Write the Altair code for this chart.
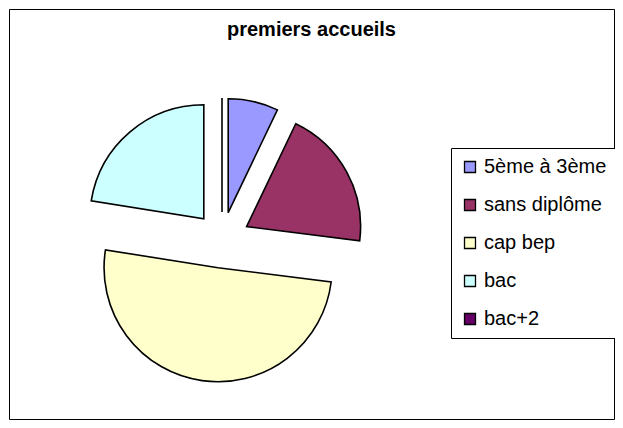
import altair as alt
import pandas as pd

categories = ["5ème à 3ème", "sans diplôme", "cap bep", "bac", "bac+2"]
values = [7.1, 19.9, 50.5, 22.5, 0.0]
colors = ["#9999FF", "#993366", "#FFFFCC", "#CCFFFF", "#660066"]
title_text = "premiers accueils"

df = pd.DataFrame({"cat": categories, "value": values, "order": list(range(len(categories)))})

cx, cy, explode, radius = 213, 231, 28, 114
W, H = 605, 410

arcs = (
    alt.Chart(df)
    .transform_joinaggregate(total="sum(value)")
    .transform_window(cum="sum(value)", sort=[alt.SortField("order")])
    .transform_calculate(t0="2*PI*(datum.cum-datum.value)/datum.total",
                         t1="2*PI*datum.cum/datum.total")
    .transform_calculate(mid="(datum.t0+datum.t1)/2")
    .transform_calculate(px=f"{cx}+{explode}*sin(datum.mid)",
                         py=f"{cy}-{explode}*cos(datum.mid)")
    .mark_arc(outerRadius=radius, stroke="black", strokeWidth=1.6, strokeJoin="miter")
    .encode(
        theta=alt.Theta("t0:Q", scale=None),
        theta2="t1:Q",
        x=alt.X("px:Q", scale=None),
        y=alt.Y("py:Q", scale=None),
        color=alt.Color(
            "cat:N",
            scale=alt.Scale(domain=categories, range=colors),
            legend=alt.Legend(
                title=None, orient="none", legendX=442, legendY=139,
                strokeColor="black", fillColor="white", padding=9,
                symbolType="square", symbolSize=121, symbolStrokeColor="black",
                symbolStrokeWidth=1.3, symbolOpacity=1,
                labelFont="Liberation Sans", labelFontSize=20, labelColor="black",
                labelOffset=4, rowPadding=18, labelLimit=300,
            ),
        ),
        order=alt.Order("order:Q"),
    )
)

title = alt.Chart(pd.DataFrame({"t": [title_text]})).mark_text(
    font="Liberation Sans", fontSize=20, fontWeight="bold", color="black", align="center", baseline="middle"
).encode(text="t:N", x=alt.value(W / 2), y=alt.value(21))

chart = (
    alt.layer(arcs, title)
    .properties(width=W, height=H, padding=1, autosize=alt.AutoSizeParams(type="none"))
    .configure_view(stroke="black", strokeWidth=1)
)

chart.save("out.html", embed_options={"renderer": "svg", "actions": False})
